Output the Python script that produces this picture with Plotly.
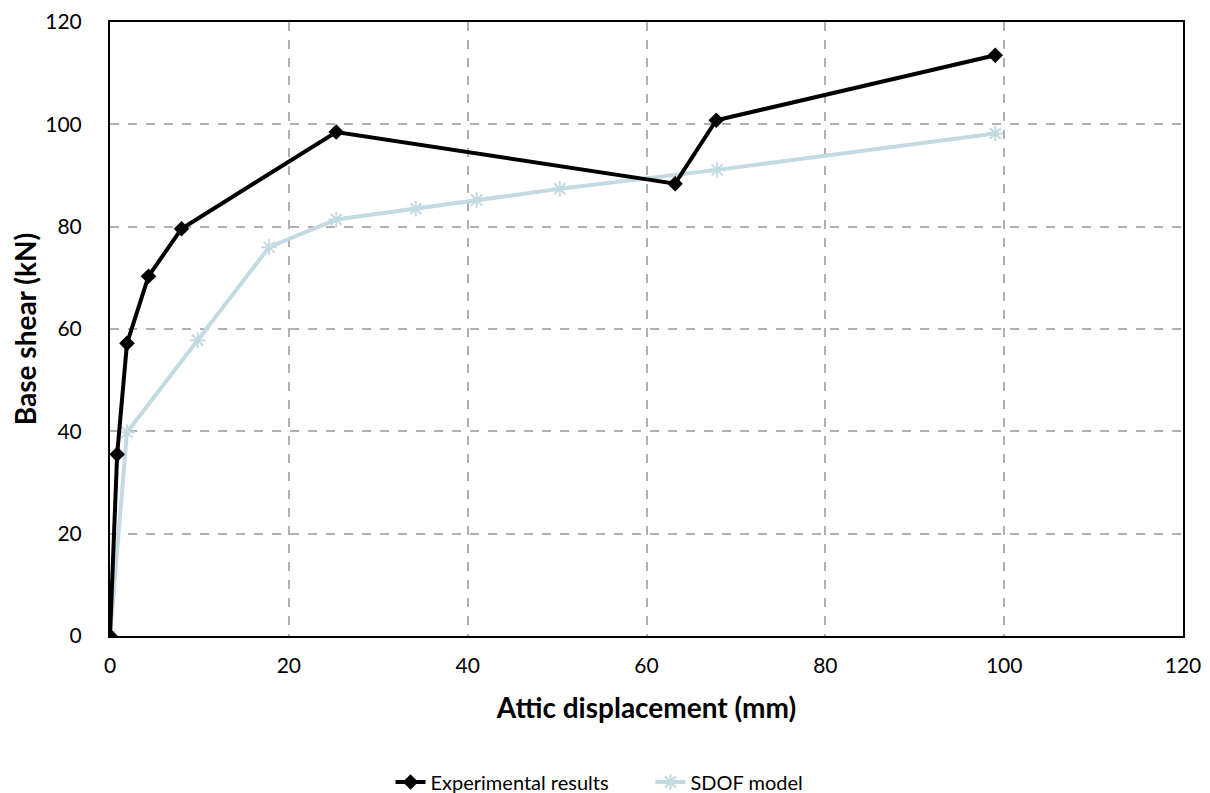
import plotly.graph_objects as go

exp_x = [0, 0.8, 1.9, 4.3, 8.0, 25.3, 63.2, 67.8, 99.0]
exp_y = [0, 35.5, 57.2, 70.3, 79.6, 98.5, 88.4, 100.8, 113.5]

sdof_x = [0, 1.9, 9.8, 17.8, 25.3, 34.2, 41.0, 50.3, 67.9, 99.0]
sdof_y = [0, 39.8, 57.8, 76.0, 81.4, 83.5, 85.2, 87.4, 91.1, 98.2]

fig = go.Figure()
fig.add_trace(go.Scatter(
    x=sdof_x, y=sdof_y, mode="lines+markers", name="SDOF model",
    line=dict(color="#c3dae3", width=4),
    marker=dict(symbol="asterisk-open", size=13, color="#c3dae3", line=dict(color="#c3dae3", width=2)),
))
fig.add_trace(go.Scatter(
    x=exp_x, y=exp_y, mode="lines+markers", name="Experimental results",
    line=dict(color="#000000", width=4),
    marker=dict(symbol="diamond", size=12, color="#000000"),
))

grid = dict(showgrid=True, gridcolor="#b0b0b0", griddash="dash", gridwidth=1.5)
fig.update_layout(
    width=1210, height=793,
    margin=dict(l=102, r=35, t=14, b=165, autoexpand=False),
    paper_bgcolor="white", plot_bgcolor="white",
    font=dict(family="Lato, Open Sans, sans-serif", color="#000000"),
    showlegend=True,
    legend=dict(orientation="h", x=0.531, xanchor="center", xref="container",
                y=0.024, yanchor="middle", yref="container",
                font=dict(size=20), traceorder="reversed",
                entrywidth=215, entrywidthmode="pixels"),
    xaxis=dict(range=[0, 120], dtick=20, tickfont=dict(size=21),
               showline=True, linecolor="black", linewidth=2, mirror=True,
               ticks="", zeroline=False, ticklabelstandoff=10, ticklabeloverflow="allow",
               title=dict(text="<b>Attic displacement (mm)</b>", font=dict(size=28), standoff=22),
               **grid),
    yaxis=dict(range=[0, 120], dtick=20, tickfont=dict(size=21),
               showline=True, linecolor="black", linewidth=2, mirror=True,
               ticks="", zeroline=False, ticklabelstandoff=22, ticklabeloverflow="allow",
               title=dict(text="<b>Base shear (kN)</b>", font=dict(size=28), standoff=20),
               **grid),
)
fig.write_html("out.html")
